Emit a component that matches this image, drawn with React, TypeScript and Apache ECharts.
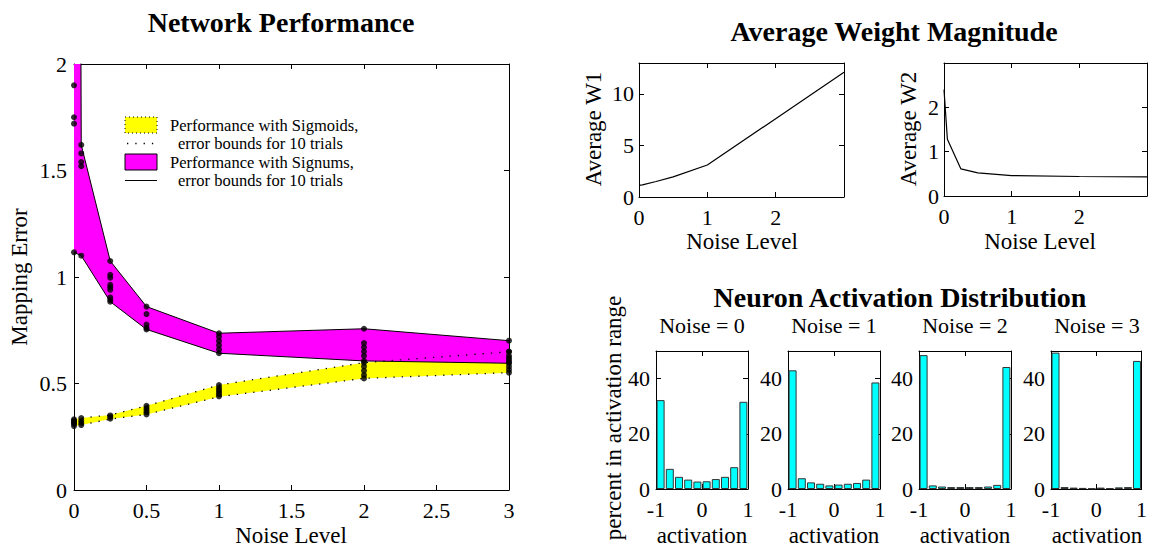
import React, { useEffect, useRef } from "react";
import * as echarts from "echarts";

// ---------- data ----------
const noiseLevels = [0, 0.05, 0.25, 0.5, 1, 2, 3];
const sigmoidLower = [0.3, 0.305, 0.333, 0.355, 0.438, 0.524, 0.551];
const sigmoidUpper = [0.332, 0.338, 0.352, 0.395, 0.493, 0.598, 0.649];
const signumLower = [1.116, 1.1, 0.884, 0.754, 0.642, 0.606, 0.595];
const signumUpper = [12, 1.62, 1.075, 0.861, 0.736, 0.757, 0.701];

const sigmoidTrials = [
  [0.3, 0.31, 0.315, 0.32, 0.325, 0.332],
  [0.305, 0.315, 0.325, 0.338],
  [0.335, 0.343, 0.35],
  [0.355, 0.365, 0.375, 0.385, 0.395],
  [0.44, 0.45, 0.46, 0.47, 0.48, 0.493],
  [0.524, 0.54, 0.56, 0.58, 0.598],
  [0.551, 0.565, 0.58, 0.6, 0.62, 0.649],
];
const signumTrials = [
  [1.9, 1.75, 1.72, 1.116],
  [1.62, 1.58, 1.54, 1.52, 1.1],
  [1.075, 1.01, 0.997, 0.963, 0.952, 0.94, 0.904, 0.893, 0.884],
  [0.861, 0.826, 0.777, 0.761, 0.754],
  [0.736, 0.72, 0.7, 0.68, 0.66, 0.642],
  [0.757, 0.69, 0.67, 0.65, 0.63, 0.606],
  [0.701, 0.65, 0.63, 0.61, 0.595],
];

const avgW1 = [1.12, 1.18, 1.5, 1.95, 3.1, 7.6, 12.1];
const avgW2 = [2.4, 1.28, 0.61, 0.52, 0.46, 0.44, 0.43];

const histBins = [-0.9, -0.7, -0.5, -0.3, -0.1, 0.1, 0.3, 0.5, 0.7, 0.9];
const histNoise0 = [32.2, 7.3, 4.4, 3.4, 2.7, 2.8, 3.6, 4.4, 7.9, 31.6];
const histNoise1 = [43.0, 3.9, 2.4, 1.9, 1.3, 1.6, 1.9, 2.2, 3.4, 38.6];
const histNoise2 = [48.5, 1.3, 0.9, 0.7, 0.7, 0.7, 0.7, 0.9, 1.5, 44.2];
const histNoise3 = [49.4, 0.7, 0.5, 0.4, 0.2, 0.5, 0.3, 0.6, 0.7, 46.4];
const histSets = [histNoise0, histNoise1, histNoise2, histNoise3];
const histTitles = ["Noise = 0", "Noise = 1", "Noise = 2", "Noise = 3"];

const legendLines = [
  "Performance with Sigmoids,",
  "error bounds for 10 trials",
  "Performance with Signums,",
  "error bounds for 10 trials",
];

// ---------- helpers ----------
const FONT = "'Liberation Serif', 'Times New Roman', Times, serif";

function axisPair(
  kind: "x" | "y",
  gridIndex: number,
  min: number,
  max: number,
  interval: number,
  margin: number,
  formatter?: (v: number) => string
) {
  const base = {
    type: "value",
    gridIndex,
    min,
    max,
    interval,
    splitLine: { show: false },
    axisLine: { show: true, onZero: false, lineStyle: { color: "#000", width: 1 } },
    axisTick: { show: true, inside: true, length: 5, lineStyle: { color: "#000", width: 1 } },
  };
  const main = {
    ...base,
    position: kind === "x" ? "bottom" : "left",
    axisLabel: {
      show: true,
      color: "#000",
      fontFamily: FONT,
      fontSize: 22,
      margin,
      formatter: formatter || ((v: number) => String(v)),
    },
  };
  const mirror = {
    ...base,
    position: kind === "x" ? "top" : "right",
    axisLabel: { show: false },
  };
  return [main, mirror];
}

const onlyMultiples = (step: number, hide?: number) => (v: number) => {
  if (hide !== undefined && Math.abs(v - hide) < 1e-9) return "";
  const r = v / step;
  return Math.abs(r - Math.round(r)) < 1e-9 ? String(v) : "";
};

function txt(text: string, x: number, y: number, size: number, opts: any = {}) {
  return {
    type: "text",
    x,
    y,
    rotation: opts.rotation || 0,
    style: {
      text,
      fill: "#000",
      font: `${opts.bold ? "bold " : ""}${size}px ${FONT}`,
      align: opts.align || "center",
      verticalAlign: "middle",
    },
    z: 10,
  };
}

function bandSeries(lower: number[], upper: number[], color: string) {
  return {
    type: "custom",
    xAxisIndex: 0,
    yAxisIndex: 0,
    silent: true,
    data: noiseLevels.map((x, i) => [x, lower[i], upper[i]]),
    renderItem: (params: any, api: any) => {
      if (params.dataIndex !== 0) return { type: "group", children: [] };
      const top = noiseLevels.map((x, i) => api.coord([x, upper[i]]));
      const bot = noiseLevels.map((x, i) => api.coord([x, lower[i]])).reverse();
      const cs = params.coordSys;
      return {
        type: "polygon",
        shape: { points: top.concat(bot) },
        style: { fill: color, stroke: "none" },
        clipPath: { type: "rect", shape: { x: cs.x, y: cs.y, width: cs.width, height: cs.height } },
      };
    },
  };
}

export default function App() {
  const ref = useRef<HTMLDivElement>(null);

  useEffect(() => {
    if (!ref.current) return;
    const chart = echarts.init(ref.current, undefined, { renderer: "svg" });

    const grids: any[] = [
      { left: 74, top: 64, width: 435, height: 426 },
      { left: 639, top: 63, width: 205, height: 134 },
      { left: 944, top: 63, width: 205, height: 133 },
    ];
    const histLefts = [656, 788, 919, 1051];
    histLefts.forEach((l) => grids.push({ left: l, top: 351, width: 92, height: 138 }));

    const xAxes: any[] = [];
    const yAxes: any[] = [];
    xAxes.push(...axisPair("x", 0, 0, 3, 0.5, 9));
    yAxes.push(...axisPair("y", 0, 0, 2, 0.5, 7));
    xAxes.push(...axisPair("x", 1, 0, 3, 1, 9, onlyMultiples(1, 3)));
    yAxes.push(...axisPair("y", 1, 0, 13, 5, 5, onlyMultiples(5)));
    xAxes.push(...axisPair("x", 2, 0, 3, 1, 9, onlyMultiples(1, 3)));
    yAxes.push(...axisPair("y", 2, 0, 3, 1, 5, onlyMultiples(1, 3)));
    for (let k = 0; k < 4; k++) {
      xAxes.push(...axisPair("x", 3 + k, -1, 1, 1, 9));
      yAxes.push(...axisPair("y", 3 + k, 0, 50, 20, 6, onlyMultiples(20)));
    }

    const pts = (ys: number[]) => noiseLevels.map((x, i) => [x, ys[i]]);
    const trialPts = (trials: number[][]) => {
      const out: number[][] = [];
      trials.forEach((arr, i) => arr.forEach((v) => out.push([noiseLevels[i], v])));
      return out;
    };

    const series: any[] = [
      bandSeries(sigmoidLower, sigmoidUpper, "#ffff00"),
      bandSeries(signumLower, signumUpper, "#ff00ff"),
      {
        type: "line", xAxisIndex: 0, yAxisIndex: 0, symbol: "none",
        lineStyle: { color: "#000", width: 1.3, type: [1.3, 7] }, data: pts(sigmoidLower),
      },
      {
        type: "line", xAxisIndex: 0, yAxisIndex: 0, symbol: "none",
        lineStyle: { color: "#000", width: 1.3, type: [1.3, 7] }, data: pts(sigmoidUpper),
      },
      {
        type: "line", xAxisIndex: 0, yAxisIndex: 0, symbol: "none",
        lineStyle: { color: "#000", width: 1 }, data: pts(signumLower),
      },
      {
        type: "line", xAxisIndex: 0, yAxisIndex: 0, symbol: "none",
        lineStyle: { color: "#000", width: 1 }, data: pts(signumUpper),
      },
      {
        type: "scatter", xAxisIndex: 0, yAxisIndex: 0, symbol: "circle", symbolSize: 6,
        itemStyle: { color: "#000" }, data: trialPts(sigmoidTrials),
      },
      {
        type: "scatter", xAxisIndex: 0, yAxisIndex: 0, symbol: "circle", symbolSize: 6,
        itemStyle: { color: "#000" }, data: trialPts(signumTrials),
      },
      {
        type: "line", xAxisIndex: 2, yAxisIndex: 2, symbol: "none",
        lineStyle: { color: "#000", width: 1.2 }, data: pts(avgW1),
      },
      {
        type: "line", xAxisIndex: 4, yAxisIndex: 4, symbol: "none",
        lineStyle: { color: "#000", width: 1.2 }, data: pts(avgW2),
      },
    ];
    histSets.forEach((h, k) => {
      series.push({
        type: "bar",
        xAxisIndex: 6 + 2 * k,
        yAxisIndex: 6 + 2 * k,
        barWidth: 8,
        itemStyle: { color: "#00ffff", borderColor: "#333", borderWidth: 1 },
        data: histBins.map((b, i) => [b, h[i]]),
      });
    });

    const histCenters = histLefts.map((l) => l + 46);
    const legendY = [125, 143.5, 162, 180.5];
    const graphic: any[] = [
      txt("Network Performance", 281, 22, 28, { bold: true }),
      txt("Mapping Error", 19, 277, 23, { rotation: Math.PI / 2 }),
      txt("Noise Level", 291, 535, 23),
      txt("Average Weight Magnitude", 894, 31, 28, { bold: true }),
      txt("Average W1", 593, 129, 23, { rotation: Math.PI / 2 }),
      txt("Noise Level", 742, 241, 23),
      txt("Average W2", 908, 129, 23, { rotation: Math.PI / 2 }),
      txt("Noise Level", 1040, 241, 23),
      txt("Neuron Activation Distribution", 900, 297, 28, { bold: true }),
      txt("percent in activation range", 613, 418, 23, { rotation: Math.PI / 2 }),
      ...histCenters.map((c, k) => txt(histTitles[k], c, 325, 22)),
      ...histCenters.map((c) => txt("activation", c, 535, 23)),
      // legend
      {
        type: "rect", shape: { x: 125, y: legendY[0] - 8, width: 32, height: 16 },
        style: { fill: "#ffff00", stroke: "#000", lineWidth: 1, lineDash: [1, 3] }, z: 10,
      },
      {
        type: "line", shape: { x1: 127, y1: legendY[1], x2: 157, y2: legendY[1] },
        style: { stroke: "#000", lineWidth: 1.3, lineDash: [1.3, 7] }, z: 10,
      },
      {
        type: "rect", shape: { x: 125, y: legendY[2] - 8, width: 32, height: 16 },
        style: { fill: "#ff00ff", stroke: "#000", lineWidth: 1 }, z: 10,
      },
      {
        type: "line", shape: { x1: 125, y1: legendY[3], x2: 157, y2: legendY[3] },
        style: { stroke: "#000", lineWidth: 1 }, z: 10,
      },
      ...legendLines.map((l, i) => txt(l, i % 2 === 0 ? 170 : 178, legendY[i], 16.5, { align: "left" })),
    ];

    chart.setOption({
      animation: false,
      backgroundColor: "#fff",
      grid: grids,
      xAxis: xAxes,
      yAxis: yAxes,
      series,
      graphic,
    });

    return () => chart.dispose();
  }, []);

  return (
    <div
      ref={ref}
      style={{ position: "absolute", left: 0, top: 0, width: 1150, height: 546, background: "#fff" }}
    />
  );
}
